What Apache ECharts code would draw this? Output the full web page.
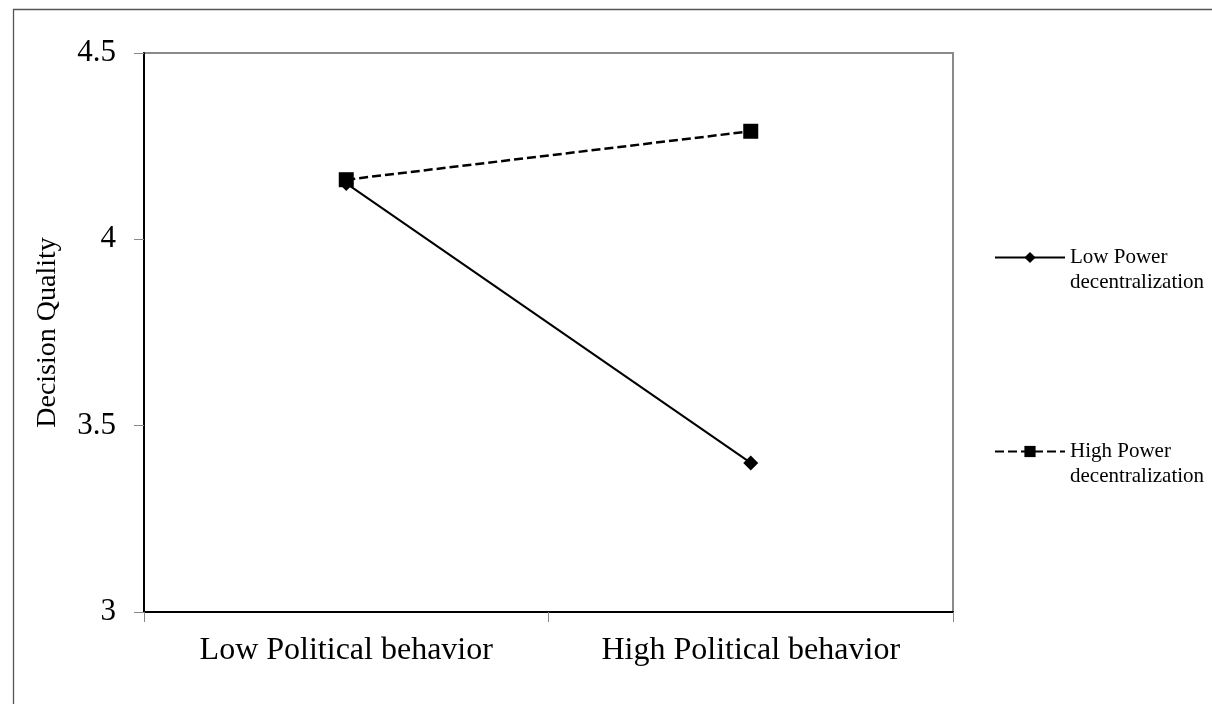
<!DOCTYPE html>
<html>
<head>
<meta charset="utf-8">
<script src="https://cdn.jsdelivr.net/npm/echarts@6/dist/echarts.min.js"></script>
<style>html,body{margin:0;padding:0;background:#fff}#c{width:1212px;height:704px}</style>
</head>
<body>
<div id="c"></div>
<script>
var categories = ['Low Political behavior', 'High Political behavior'];
var lowPower = [4.15, 3.40];
var highPower = [4.16, 4.29];
var seriesNames = ['Low Power decentralization', 'High Power decentralization'];
var legendLabels = ['Low Power\ndecentralization', 'High Power\ndecentralization'];
var yMin = 3, yMax = 4.5, yStep = 0.5;

var chart = echarts.init(document.getElementById('c'));
var font = '"Liberation Serif", "Times New Roman", serif';
var legendText = { fontFamily: font, fontSize: 21, color: '#000', lineHeight: 25 };
chart.setOption({
  animation: false,
  backgroundColor: '#fff',
  graphic: [{
    type: 'rect', left: 11, top: 7, shape: { width: 1300, height: 800 },
    style: { fill: 'none', stroke: '#555', lineWidth: 1.3 }, silent: true, z: -1
  }],
  grid: { left: 144, top: 53, right: 259, bottom: 92, show: true, borderColor: '#8a8a8a', borderWidth: 2, backgroundColor: 'transparent' },
  legend: [{
    data: [seriesNames[0]], left: 989, top: 215, orient: 'vertical',
    itemWidth: 70, itemHeight: 14, itemGap: 0,
    formatter: function () { return '\n' + legendLabels[0]; },
    textStyle: legendText
  }, {
    data: [seriesNames[1]], left: 989, top: 409, orient: 'vertical',
    itemWidth: 70, itemHeight: 14, itemGap: 0,
    formatter: function () { return '\n' + legendLabels[1]; },
    textStyle: legendText
  }],
  xAxis: {
    type: 'category', data: categories, boundaryGap: true,
    axisLine: { lineStyle: { color: '#000', width: 2 } },
    axisTick: { show: true, length: 10, inside: false, lineStyle: { color: '#888', width: 1 } },
    axisLabel: { fontFamily: font, fontSize: 32, color: '#000', margin: 23 },
    splitLine: { show: false }
  },
  yAxis: {
    type: 'value', min: yMin, max: yMax, interval: yStep,
    name: 'Decision Quality', nameLocation: 'middle', nameGap: 82, nameRotate: 90,
    nameTextStyle: { fontFamily: font, fontSize: 28, color: '#000' },
    axisLine: { show: true, lineStyle: { color: '#000', width: 2 } },
    axisTick: { show: true, length: 10, inside: false, lineStyle: { color: '#888', width: 1 } },
    axisLabel: { fontFamily: font, fontSize: 31, color: '#000', margin: 28 },
    splitLine: { show: false }
  },
  series: [{
    name: seriesNames[0], type: 'line', data: lowPower,
    symbol: 'diamond', symbolSize: 15,
    lineStyle: { color: '#000', width: 2 }, itemStyle: { color: '#000' }, z: 3
  }, {
    name: seriesNames[1], type: 'line', data: highPower,
    symbol: 'rect', symbolSize: 15,
    lineStyle: { color: '#000', width: 2.5, type: [9, 4] }, itemStyle: { color: '#000' }, z: 4
  }]
});
</script>
</body>
</html>
